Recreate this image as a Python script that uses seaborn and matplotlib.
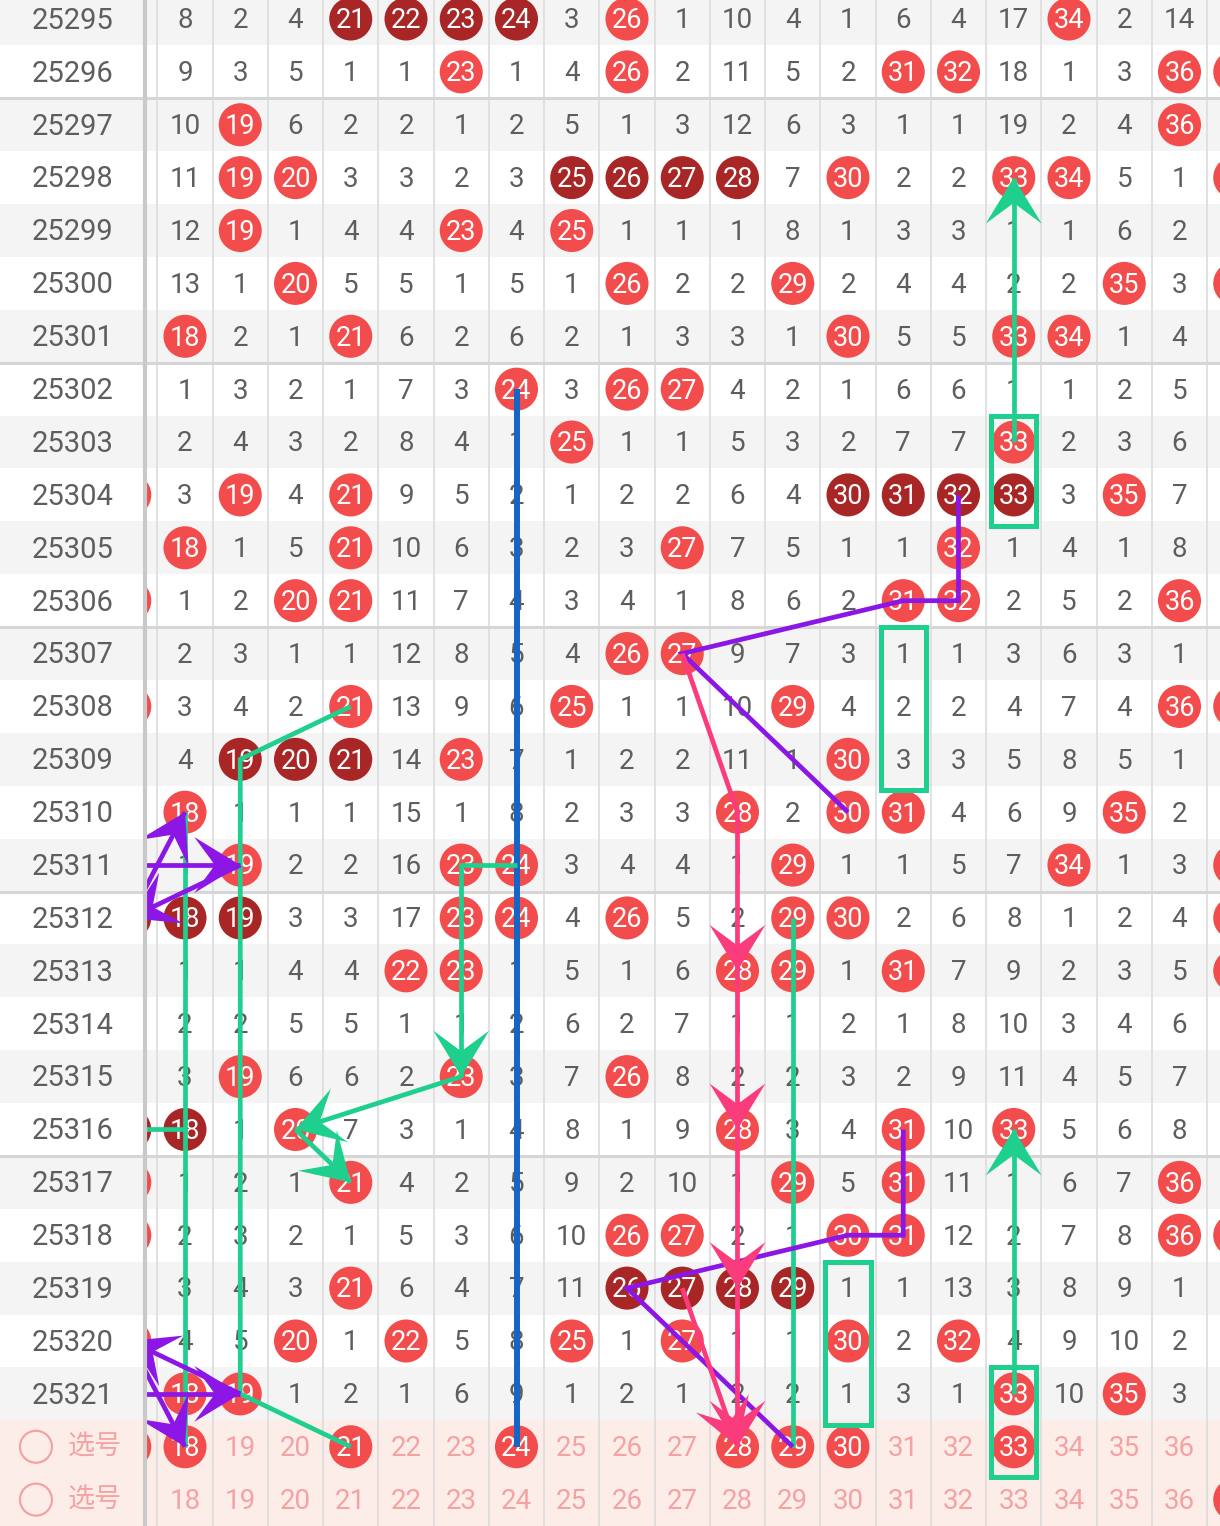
import numpy as np
import pandas as pd
import matplotlib
matplotlib.use("Agg")
import matplotlib.pyplot as plt
import seaborn as sns
from matplotlib.colors import ListedColormap
from matplotlib.patches import Polygon, Rectangle

# ---- data -----------------------------------------------------------------
issues = list(range(25295, 25322))
SEL1, SEL2 = 25322, 25323          # the two "选号" rows, used as row keys
select_label = "选号"
numbers = list(range(17, 38))      # 17 and 37 are only partly on screen
main_numbers = list(range(18, 37))

# columns 18..36 ; B = drawn ball, D = drawn ball (dark, in a run), else gap count
grid_rows = [
    "8 2 4 D D D D 3 B 1 10 4 1 6 4 17 B 2 14",
    "9 3 5 1 1 B 1 4 B 2 11 5 2 B B 18 1 3 B",
    "10 B 6 2 2 1 2 5 1 3 12 6 3 1 1 19 2 4 B",
    "11 B B 3 3 2 3 D D D D 7 B 2 2 B B 5 1",
    "12 B 1 4 4 B 4 B 1 1 1 8 1 3 3 1 1 6 2",
    "13 1 B 5 5 1 5 1 B 2 2 B 2 4 4 2 2 B 3",
    "B 2 1 B 6 2 6 2 1 3 3 1 B 5 5 B B 1 4",
    "1 3 2 1 7 3 B 3 B B 4 2 1 6 6 1 1 2 5",
    "2 4 3 2 8 4 1 B 1 1 5 3 2 7 7 B 2 3 6",
    "3 B 4 B 9 5 2 1 2 2 6 4 D D D D 3 B 7",
    "B 1 5 B 10 6 3 2 3 B 7 5 1 1 B 1 4 1 8",
    "1 2 B B 11 7 4 3 4 1 8 6 2 B B 2 5 2 B",
    "2 3 1 1 12 8 5 4 B B 9 7 3 1 1 3 6 3 1",
    "3 4 2 B 13 9 6 B 1 1 10 B 4 2 2 4 7 4 B",
    "4 D D D 14 B 7 1 2 2 11 1 B 3 3 5 8 5 1",
    "B 1 1 1 15 1 8 2 3 3 B 2 B B 4 6 9 B 2",
    "1 B 2 2 16 B B 3 4 4 1 B 1 1 5 7 B 1 3",
    "D D 3 3 17 B B 4 B 5 2 B B 2 6 8 1 2 4",
    "1 1 4 4 B B 1 5 1 6 B B 1 B 7 9 2 3 5",
    "2 2 5 5 1 1 2 6 2 7 1 1 2 1 8 10 3 4 6",
    "3 B 6 6 2 B 3 7 B 8 2 2 3 2 9 11 4 5 7",
    "D 1 B 7 3 1 4 8 1 9 B 3 4 B 10 B 5 6 8",
    "1 2 1 B 4 2 5 9 2 10 1 B 5 B 11 1 6 7 B",
    "2 3 2 1 5 3 6 10 B B 2 1 B B 12 2 7 8 B",
    "3 4 3 B 6 4 7 11 D D D D 1 1 13 3 8 9 1",
    "4 5 B 1 B 5 8 B 1 B 1 1 B 2 B 4 9 10 2",
    "B B 1 2 1 6 9 1 2 1 2 2 1 3 1 B 10 B 3",
]

# balls in the half-hidden edge columns
col17_hits = {25304: "B", 25306: "B", 25308: "B", 25312: "D", 25316: "D",
              25317: "B", 25318: "B", 25320: "B", SEL1: "B"}
col37_hits = {25296: "B", 25298: "B", 25300: "B", 25308: "B", 25311: "B",
              25312: "B", 25313: "B", 25318: "B", SEL2: "B"}

select1_balls = [18, 21, 24, 28, 29, 30, 33]

# hand drawn trend lines: (points as (number, issue), indices that get an arrow head)
blue_paths = [([(24, 25302), (24, SEL1)], [])]
green_paths = [
    ([(33, 25303), (33, 25298)], [1]),
    ([(24, 25311), (23, 25311), (23, 25315)], [2]),
    ([(23, 25315), (20, 25316)], [1]),
    ([(20, 25316), (21, 25317)], [1]),
    ([(21, 25308), (19, 25309), (19, 25321), (21, SEL1)], []),
    ([(18, 25310), (18, SEL1)], []),
    ([(17, 25316), (18, 25316)], []),
    ([(29, 25312), (29, SEL1)], []),
    ([(33, 25321), (33, 25316)], [1]),
]
purple_paths = [
    ([(32, 25304), (32, 25306), (31, 25306), (27, 25307), (30, 25310)], []),
    ([(31, 25316), (31, 25318), (30, 25318), (26, 25319), (29, SEL1)], []),
    ([(17, 25312), (18, 25310)], [1]),
    ([(17, 25311), (19, 25311)], [1]),
    ([(19, 25311), (17, 25312)], [1]),
    ([(19, 25321), (17, 25320)], [1]),
    ([(17, 25321), (19, 25321)], [1]),
    ([(17, 25320), (18, SEL1)], [1]),
]
pink_paths = [
    ([(27, 25307), (28, 25310), (28, 25313), (28, 25316), (28, 25319), (28, SEL1)], [2, 3, 4, 5]),
    ([(27, 25319), (28, SEL1)], [1]),
]
green_boxes = [(33, 25303, 25304), (31, 25307, 25309), (30, 25319, 25321), (33, 25321, SEL1)]

# ---- style ----------------------------------------------------------------
RED, DARK = "#f24c4c", "#a82626"
GRAY_TXT, PINK_TXT = "#5e5e5e", "#f4a2a2"
GREEN, PURPLE, PINK, BLUE = "#1ecf8e", "#8c16e6", "#fb3c7c", "#1565c4"
BG = ["#f4f4f4", "#ffffff", "#fdede8"]

COL_W, ROW_H = 55.25, 52.88      # pixels
X18, Y0 = 185, 19                # pixel centre of column 18 / first row
W, H = 1220, 1526
TXT_DY = 0.035                   # nudge text down a touch to sit in the middle

sns.set_style("white")
plt.rcParams["font.family"] = ["Roboto", "Noto Sans CJK SC", "DejaVu Sans"]

all_rows = issues + [SEL1, SEL2]
n_rows = len(all_rows)


def rix(issue):
    return all_rows.index(issue) + 0.5


def cix(num):
    return num - numbers[0] + 0.5


stripes = np.array([[2 if r in (SEL1, SEL2) else i % 2] * len(numbers)
                    for i, r in enumerate(all_rows)])

fig = plt.figure(figsize=(W / 100, H / 100), dpi=100)
ax = fig.add_axes([0, 0, 1, 1])
sns.heatmap(pd.DataFrame(stripes), cmap=ListedColormap(BG), vmin=-0.5, vmax=2.5,
            cbar=False, xticklabels=False, yticklabels=False, ax=ax)

# grid lines
for j in range(len(numbers) + 1):
    ax.axvline(j, color="#dcdcdc", lw=1.2, zorder=1.5)
for k in (2, 7, 12, 17, 22):
    ax.axhline(k, color="#d6d6d6", lw=2.2, zorder=1.6)

# cells
balls, texts = [], []
for issue, line in zip(issues, grid_rows):
    for num, v in zip(main_numbers, line.split()):
        if v in ("B", "D"):
            balls.append((cix(num), rix(issue), v, num))
        else:
            texts.append((cix(num), rix(issue), v, GRAY_TXT))
for num in main_numbers:
    if num in select1_balls:
        balls.append((cix(num), rix(SEL1), "B", num))
    else:
        texts.append((cix(num), rix(SEL1), str(num), PINK_TXT))
    texts.append((cix(num), rix(SEL2), str(num), PINK_TXT))

edge_balls = [(cix(17), rix(r), v, 17) for r, v in col17_hits.items()]
edge_balls += [(cix(37), rix(r), v, 37) for r, v in col37_hits.items()]

ball_df = pd.DataFrame(balls + edge_balls, columns=["x", "y", "kind", "num"])
sns.scatterplot(data=ball_df, x="x", y="y", hue="kind", palette={"B": RED, "D": DARK},
                s=960, linewidth=0, legend=False, ax=ax, zorder=3)
for x, y, kind, num in balls:
    ax.text(x, y + TXT_DY, str(num), ha="center", va="center", color="white",
            fontsize=19.5, zorder=4)
for x, y, v, c in texts:
    ax.text(x, y + TXT_DY, v, ha="center", va="center", color=c, fontsize=20, zorder=4)

ax.set_xlim(cix(18) - X18 / COL_W, cix(18) + (W - X18) / COL_W)
ax.set_ylim(0.5 + (H - Y0) / ROW_H, 0.5 - Y0 / ROW_H)
ax.set_xlabel("")
ax.set_ylabel("")
ax.axis("off")


def arrow_head(p0, p1, color, length=46, half=28, notch=0.55):
    a = ax.transData.transform(p0)
    b = ax.transData.transform(p1)
    d = (b - a) / np.hypot(*(b - a))
    n = np.array([-d[1], d[0]])
    base = b - d * length
    pts = np.array([b, base + n * half, b - d * length * notch, base - n * half])
    ax.add_patch(Polygon(ax.transData.inverted().transform(pts), closed=True,
                         facecolor=color, edgecolor="none", zorder=7))


def draw_paths(paths, color, lw):
    for pts, heads in paths:
        xy = [(cix(n), rix(r)) for n, r in pts]
        ax.plot([p[0] for p in xy], [p[1] for p in xy], color=color, lw=lw,
                solid_joinstyle="miter", solid_capstyle="butt", zorder=6)
        for h in heads:
            arrow_head(xy[h - 1], xy[h], color)


draw_paths(blue_paths, BLUE, 4.3)
draw_paths(green_paths, GREEN, 3.4)
draw_paths(purple_paths, PURPLE, 3.4)
draw_paths(pink_paths, PINK, 3.4)

for num, r0, r1 in green_boxes:
    ax.add_patch(Rectangle((cix(num) - 0.41, rix(r0) - 0.5), 0.82, rix(r1) - rix(r0) + 1.08,
                           fill=False, edgecolor=GREEN, lw=3.6, zorder=6.5))

# issue label column, drawn over the hidden column 17
lab = fig.add_axes([0, 0, 145 / W, 1])
lab.set_zorder(5)
sns.heatmap(pd.DataFrame(stripes[:, :1]), cmap=ListedColormap(BG), vmin=-0.5, vmax=2.5,
            cbar=False, xticklabels=False, yticklabels=False, ax=lab)
lab.set_ylim(ax.get_ylim())
for k in (2, 7, 12, 17, 22):
    lab.axhline(k, color="#d6d6d6", lw=2.2)
for issue in issues:
    lab.text(0.5, rix(issue) + TXT_DY, str(issue), ha="center", va="center",
             color=GRAY_TXT, fontsize=21)
for r in (SEL1, SEL2):
    lab.scatter([0.248], [rix(r)], s=530, facecolors="none", edgecolors=PINK_TXT, linewidths=1.6)
    lab.text(0.655, rix(r), select_label, ha="center", va="center", color=PINK_TXT,
             fontsize=19.5, family=["Noto Sans CJK SC", "DejaVu Sans"])
for s in lab.spines.values():
    s.set_visible(False)
lab.spines["right"].set_visible(True)
lab.spines["right"].set_color("#c9c9c9")
lab.spines["right"].set_linewidth(3)
lab.set_xlabel("")
lab.set_ylabel("")

fig.savefig("out.png", dpi=100)
